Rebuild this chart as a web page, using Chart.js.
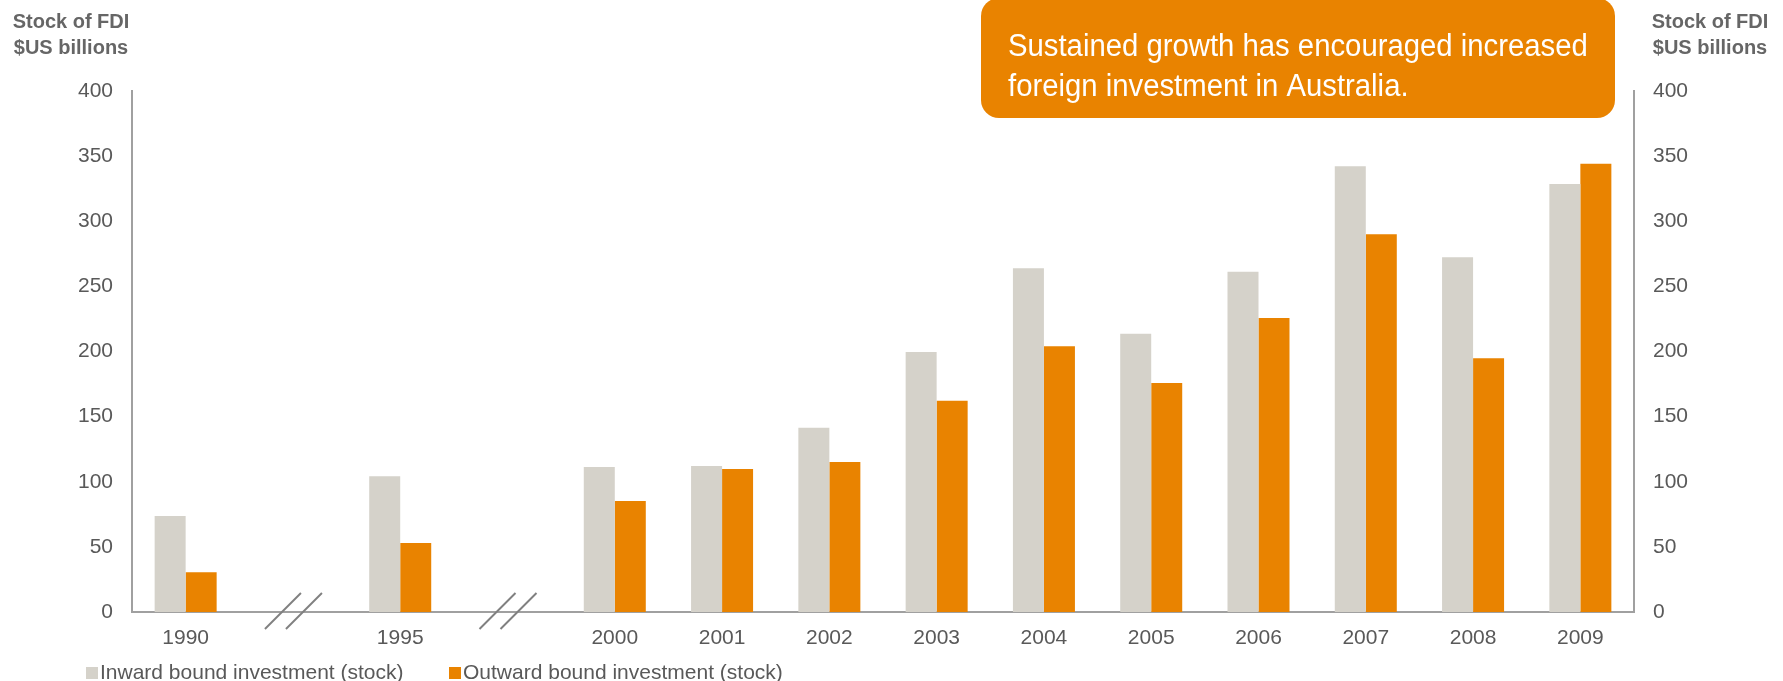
<!DOCTYPE html>
<html>
<head>
<meta charset="utf-8">
<script src="https://cdn.jsdelivr.net/npm/chart.js@4.4.1/dist/chart.umd.min.js"></script>
<style>
  html, body { margin: 0; padding: 0; background: #ffffff; }
  #wrap { position: relative; width: 1783px; height: 681px; }
</style>
</head>
<body>
<div id="wrap"><canvas id="fdiChart"></canvas></div>
<script>
// Categories: empty labels mark the axis breaks (1990 -> 1995 -> 2000)
const categories = ['1990', '', '1995', '', '2000', '2001', '2002', '2003', '2004', '2005', '2006', '2007', '2008', '2009'];

// Stock of FDI, $US billions
const inwardStock  = [73.7, null, 104.2, null, 111.3, 112.0, 141.5, 199.6, 263.9, 213.7, 261.3, 342.2, 272.3, 328.6];
const outwardStock = [30.5, null, 53.0, null, 85.2, 109.8, 115.2, 162.2, 204.0, 175.8, 225.7, 290.0, 194.8, 344.2];

const seriesNames = ['Inward bound investment (stock)', 'Outward bound investment (stock)'];
const yTickValues = [0, 50, 100, 150, 200, 250, 300, 350, 400];
const axisTitle = ['Stock of FDI', '$US billions'];
const calloutLines = ['Sustained growth has encouraged increased', 'foreign investment in Australia.'];

const GREY = '#d5d2ca';
const ORANGE = '#e98300';
const TEXT = '#595959';
const AXIS = '#a0a0a0';
const FONT = "'Liberation Sans', Arial, sans-serif";

// axis-break marks, title text, callout box and legend
const decorations = {
    id: 'decorations',
    afterDraw(chart) {
        const ctx = chart.ctx;
        const x = chart.scales.x;
        const area = chart.chartArea;
        ctx.save();

        // break marks "//" at the empty categories
        ctx.strokeStyle = '#808080';
        ctx.lineWidth = 2;
        categories.forEach((c, i) => {
            if (c !== '') return;
            const cx = x.getPixelForValue(i);
            [-10, 11].forEach(off => {
                ctx.beginPath();
                ctx.moveTo(cx + off - 18, area.bottom + 17);
                ctx.lineTo(cx + off + 18, area.bottom - 19);
                ctx.stroke();
            });
        });

        // axis titles on both sides
        ctx.fillStyle = '#666666';
        ctx.font = 'bold 20px ' + FONT;
        ctx.textAlign = 'center';
        ctx.textBaseline = 'middle';
        axisTitle.forEach((t, i) => {
            ctx.fillText(t, 71, 22 + i * 26);
            ctx.fillText(t, 1710, 22 + i * 26);
        });

        // callout
        ctx.fillStyle = ORANGE;
        ctx.beginPath();
        ctx.roundRect(981, -2, 634, 120, 18);
        ctx.fill();
        ctx.save();
        ctx.fillStyle = '#ffffff';
        ctx.font = '31px ' + FONT;
        ctx.textAlign = 'left';
        ctx.textBaseline = 'alphabetic';
        ctx.translate(1008, 0);
        ctx.scale(0.945, 1);
        calloutLines.forEach((t, i) => ctx.fillText(t, 0, 56 + i * 40));
        ctx.restore();

        // legend
        ctx.font = '21px ' + FONT;
        ctx.textAlign = 'left';
        ctx.textBaseline = 'middle';
        const legendX = [86, 449];
        chart.data.datasets.forEach((ds, i) => {
            ctx.fillStyle = ds.backgroundColor;
            ctx.fillRect(legendX[i], 667, 12, 12);
            ctx.fillStyle = TEXT;
            ctx.fillText(ds.label, legendX[i] + 14, 673);
        });
        ctx.restore();
    }
};

const yAxisCommon = {
    min: 0,
    max: 400,
    afterBuildTicks: scale => { scale.ticks = yTickValues.map(v => ({ value: v })); },
    grid: { display: false, drawTicks: false },
    border: { display: true, color: AXIS, width: 2 },
    ticks: { color: TEXT, padding: 19, font: { family: FONT, size: 21 } }
};

new Chart(document.getElementById('fdiChart'), {
    type: 'bar',
    data: {
        labels: categories,
        datasets: [
            { label: seriesNames[0], data: inwardStock, backgroundColor: GREY },
            { label: seriesNames[1], data: outwardStock, backgroundColor: ORANGE }
        ]
    },
    options: {
        responsive: true,
        maintainAspectRatio: false,
        animation: false,
        categoryPercentage: 0.578,
        barPercentage: 1.0,
        layout: { padding: { top: 91, bottom: 29, left: 0, right: 0 } },
        scales: {
            x: {
                grid: { display: false, drawTicks: false },
                border: { display: true, color: AXIS, width: 2 },
                ticks: { color: TEXT, padding: 14, maxRotation: 0, autoSkip: false, font: { family: FONT, size: 21 } },
                afterFit: scale => { scale.height = 40; }
            },
            y: Object.assign({}, yAxisCommon, {
                position: 'left',
                afterFit: scale => { scale.width = 132; }
            }),
            y2: Object.assign({}, yAxisCommon, {
                position: 'right',
                display: true,
                afterFit: scale => { scale.width = 149; }
            })
        },
        plugins: {
            legend: { display: false },
            tooltip: { enabled: false }
        }
    },
    plugins: [decorations]
});
</script>
</body>
</html>
